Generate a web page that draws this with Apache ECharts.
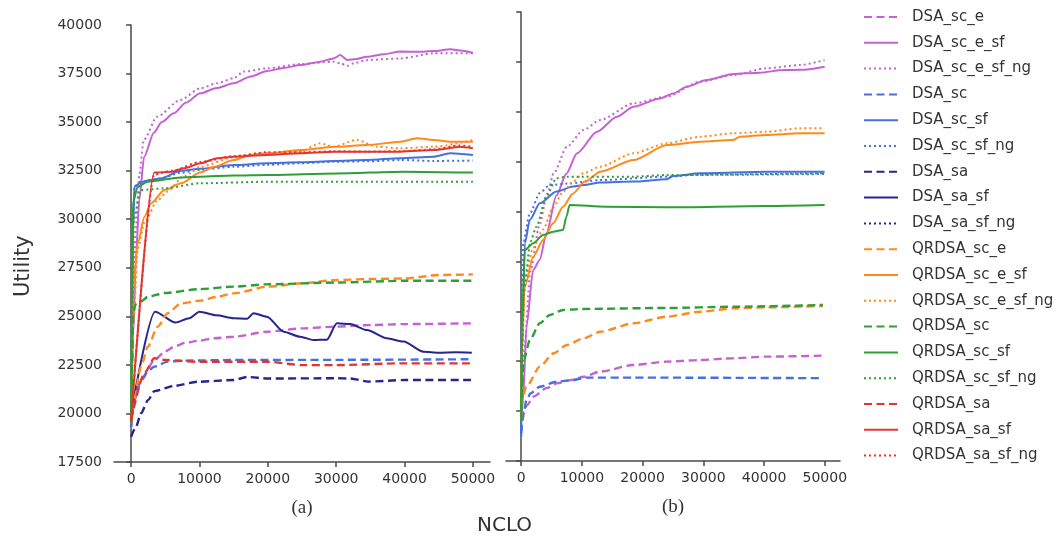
<!DOCTYPE html>
<html><head><meta charset="utf-8">
<script src="https://cdn.jsdelivr.net/npm/echarts@6/dist/echarts.min.js"></script>
<style>html,body{margin:0;padding:0;background:#fff}#c{width:1056px;height:543px}</style>
</head><body><div id="c"></div>
<script>
// ---- tick labels ----
const xTicks = [0, 10000, 20000, 30000, 40000, 50000];
const legendNames = ['DSA_sc_e','DSA_sc_e_sf','DSA_sc_e_sf_ng','DSA_sc','DSA_sc_sf','DSA_sc_sf_ng','DSA_sa','DSA_sa_sf','DSA_sa_sf_ng','QRDSA_sc_e','QRDSA_sc_e_sf','QRDSA_sc_e_sf_ng','QRDSA_sc','QRDSA_sc_sf','QRDSA_sc_sf_ng','QRDSA_sa','QRDSA_sa_sf','QRDSA_sa_sf_ng'];

// ---- panel (a) data: [NCLO, Utility] ----
const A_DSA_sc_e = [[0,19300],[500,20700],[1460,21720],[3410,22750],[5000,23200],[6330,23440],[8000,23650],[10000,23750],[12180,23870],[15000,23950],[20000,24210],[25000,24380],[30000,24470],[35000,24550],[40000,24600],[50000,24640]];
const A_DSA_sc_e_sf = [[0,19500],[300,24000],[700,28000],[1200,31000],[1900,33200],[3300,34440],[4500,35000],[6230,35450],[8000,36000],[10130,36480],[12500,36750],[15000,37000],[17500,37350],[19880,37630],[22500,37800],[24750,37940],[27500,38100],[29620,38280],[30600,38450],[31600,38200],[33000,38250],[34500,38370],[37000,38500],[39370,38630],[42000,38620],[44240,38660],[46680,38750],[48500,38680],[50000,38570]];
const A_DSA_sc_e_sf_ng = [[0,19500],[300,25000],[700,29500],[1200,32300],[1850,34080],[3800,35280],[7210,36140],[10130,36740],[12570,37000],[15000,37260],[16460,37600],[19880,37770],[24750,37990],[29620,38110],[30600,38030],[31600,37900],[32570,38030],[34500,38200],[39370,38280],[44240,38540],[50000,38540]];
const A_DSA_sc = [[0,19300],[500,20800],[1460,21720],[2500,22200],[3410,22410],[5360,22670],[8000,22720],[15000,22750],[30000,22760],[50000,22790]];
const A_DSA_sc_sf = [[0,19400],[150,25000],[300,29500],[480,31680],[1500,31900],[2400,32000],[4300,32100],[7300,32500],[10130,32600],[15000,32790],[19880,32880],[24750,32930],[29620,33000],[34500,33050],[39370,33140],[44240,33220],[46680,33400],[50000,33310]];
const A_DSA_sc_sf_ng = [[0,19400],[150,25500],[300,29800],[480,31700],[1500,31950],[4300,32100],[7300,32400],[10130,32550],[15000,32700],[19880,32800],[24750,32880],[29620,32960],[34500,32980],[39370,33050],[44240,33000],[50000,33020]];
const A_DSA_sa = [[0,18800],[700,19300],[1460,20010],[2500,20700],[3410,21150],[6330,21420],[9740,21630],[15000,21720],[17000,21880],[20000,21800],[30000,21810],[32000,21800],[34700,21640],[40000,21720],[50000,21720]];
const A_DSA_sa_sf = [[0,20000],[3500,25240],[6500,24680],[8500,24900],[10000,25240],[12500,25050],[15000,24900],[17000,24880],[17920,25160],[19870,24980],[22310,24210],[24740,23950],[26690,23780],[28640,23800],[30100,24640],[32050,24600],[34490,24290],[37410,23870],[39850,23700],[42770,23180],[45000,23130],[47500,23150],[49840,23130]];
const A_DSA_sa_sf_ng = [];
const A_QRDSA_sc_e = [[0,19500],[240,20350],[1460,22410],[2430,23440],[3900,24470],[5360,25160],[7300,25670],[10000,25800],[12500,26000],[15000,26180],[20000,26530],[25000,26700],[30000,26870],[35000,26920],[40000,26950],[45000,27130],[50000,27160]];
const A_QRDSA_sc_e_sf = [[0,19500],[240,26180],[970,28760],[1950,30130],[2920,30820],[4870,31500],[7300,31850],[10130,32400],[12180,32700],[15000,33050],[17440,33310],[19880,33400],[24750,33560],[29620,33730],[34500,33820],[39370,33990],[41800,34170],[44240,34080],[46680,33990],[50000,33990]];
const A_QRDSA_sc_e_sf_ng = [[0,19500],[300,24500],[1000,28500],[2000,29900],[3900,30990],[5260,31420],[7690,32200],[10130,32700],[15000,33190],[19880,33400],[24750,33480],[27680,33910],[29620,33730],[33000,34080],[36000,33730],[39370,33650],[44240,33730],[50000,34080]];
const A_QRDSA_sc = [[0,19500],[150,22500],[300,25000],[600,25600],[1400,25750],[2430,26000],[4870,26200],[10000,26400],[15000,26530],[20000,26650],[30000,26740],[40000,26830],[50000,26830]];
const A_QRDSA_sc_sf = [[0,19500],[100,25000],[240,30820],[970,31680],[2430,31930],[7300,32150],[10130,32190],[15000,32250],[20000,32280],[30000,32360],[40000,32450],[50000,32400]];
const A_QRDSA_sc_sf_ng = [[0,19500],[150,25000],[400,30000],[1360,31500],[4870,31590],[10130,31850],[20000,31930],[30000,31930],[50000,31930]];
const A_QRDSA_sa = [[0,19660],[1950,22070],[3410,22840],[5000,22750],[10000,22660],[20000,22660],[25000,22490],[30000,22490],[39370,22580],[50000,22580]];
const A_QRDSA_sa_sf = [[0,19600],[3400,32400],[6000,32450],[7690,32620],[10130,32880],[12570,33140],[15000,33220],[19880,33310],[24750,33400],[29620,33480],[39370,33480],[44240,33560],[48130,33730],[50000,33650]];
const A_QRDSA_sa_sf_ng = [[0,19600],[3400,32300],[6000,32500],[10130,32950],[15000,33250],[19880,33450],[24750,33450],[29620,33500],[34500,33480],[39370,33500],[44240,33600],[48000,33800],[50000,33730]];

// ---- panel (b) data ----
const B_DSA_sc_e = [[0,19600],[985,20300],[2000,20720],[4150,21150],[6000,21400],[8540,21580],[10280,21720],[13020,21980],[18490,22310],[23970,22480],[29440,22560],[34910,22650],[40390,22730],[49690,22780]];
const B_DSA_sc_e_sf = [[0,19500],[320,20560],[870,24230],[1970,27070],[3060,27570],[4150,28910],[5800,30800],[7440,31900],[9200,32920],[12480,34000],[15760,34750],[18490,35250],[22870,35670],[25060,35920],[27260,36260],[30540,36590],[34910,36890],[39290,36960],[43120,37090],[46000,37100],[49970,37260]];
const B_DSA_sc_e_sf_ng = [[0,19700],[500,23000],[1500,27000],[3000,29300],[4300,30900],[5350,31920],[7550,33250],[10280,34090],[13020,34590],[18490,35420],[23970,35760],[29440,36510],[34910,36840],[40390,37180],[45860,37340],[49970,37590]];
const B_DSA_sc = [[0,18890],[430,19890],[870,20560],[1530,20890],[3060,21220],[5800,21470],[8540,21560],[10830,21680],[18490,21680],[49690,21650]];
const B_DSA_sc_sf = [[0,18720],[150,23000],[600,28410],[1420,29580],[3060,30410],[5800,31000],[8540,31250],[10280,31330],[13020,31450],[18490,31500],[23970,31620],[25060,31780],[29440,31920],[40390,32000],[49970,32000]];
const B_DSA_sc_sf_ng = [[0,19000],[100,24000],[320,28410],[1420,29910],[3060,30920],[4700,31330],[7550,31400],[13020,31580],[23970,31750],[29440,31850],[49970,31920]];
const B_QRDSA_sc_e = [[0,20220],[870,21220],[3060,22230],[5350,22900],[7550,23310],[10280,23650],[13020,23980],[18490,24400],[23970,24730],[29440,24980],[34910,25150],[40390,25200],[49690,25270]];
const B_QRDSA_sc_e_sf = [[0,19500],[50,22560],[600,26240],[1970,27740],[3610,28570],[5250,29410],[6900,30240],[8540,30910],[10500,31500],[13020,32000],[18490,32580],[23970,33330],[29440,33500],[34910,33590],[36010,33750],[40390,33840],[45860,33920],[49970,33920]];
const B_QRDSA_sc_e_sf_ng = [[0,19500],[100,23000],[600,26700],[1970,28200],[3610,29100],[5250,30200],[6900,31000],[8540,31500],[10280,31920],[13020,32250],[18490,32920],[23970,33420],[29440,33750],[34910,33920],[40390,34000],[45860,34170],[49970,34170]];
const B_QRDSA_sc = [[0,20060],[430,22560],[1420,23560],[3060,24400],[4700,24820],[6900,25070],[10000,25120],[23970,25170],[34910,25230],[49690,25320]];
const B_QRDSA_sc_sf = [[0,19550],[100,24000],[600,28070],[1970,28410],[3610,28820],[5250,28990],[6900,29080],[7440,29740],[7980,30330],[14010,30240],[23970,30210],[40390,30280],[49970,30330]];
const B_QRDSA_sc_sf_ng = [[0,19500],[430,26000],[1530,28500],[2510,29240],[4150,30750],[5800,31670],[7550,31750],[18490,31750],[23970,31830],[49970,31880]];

const colors = {sc_e:'#c462d2', sc:'#4470e0', sa:'#25258f', q_sc_e:'#ff8a1c', q_sc:'#2e9e36', q_sa:'#e23530'};
const DASH = [8, 4.5], DOT = [2, 3];

function mk(name, data, color, kind, gi) {
  const t = kind === 'dash' ? DASH : (kind === 'dot' ? DOT : 'solid');
  return {
    name, type: 'line', data, xAxisIndex: gi, yAxisIndex: gi,
    symbol: 'none', showSymbol: false, smooth: 0.25, smoothMonotone: 'x',
    lineStyle: {color, width: kind === 'dash' ? 2.4 : 2, type: t},
    itemStyle: {color}, emphasis: {disabled: true}, animation: false
  };
}

const series = [
  mk('DSA_sc_e', A_DSA_sc_e, colors.sc_e, 'dash', 0),
  mk('DSA_sc_e_sf', A_DSA_sc_e_sf, colors.sc_e, 'solid', 0),
  mk('DSA_sc_e_sf_ng', A_DSA_sc_e_sf_ng, colors.sc_e, 'dot', 0),
  mk('DSA_sc', A_DSA_sc, colors.sc, 'dash', 0),
  mk('DSA_sc_sf', A_DSA_sc_sf, colors.sc, 'solid', 0),
  mk('DSA_sc_sf_ng', A_DSA_sc_sf_ng, colors.sc, 'dot', 0),
  mk('DSA_sa', A_DSA_sa, colors.sa, 'dash', 0),
  mk('DSA_sa_sf', A_DSA_sa_sf, colors.sa, 'solid', 0),
  mk('DSA_sa_sf_ng', A_DSA_sa_sf_ng, colors.sa, 'dot', 0),
  mk('QRDSA_sc_e', A_QRDSA_sc_e, colors.q_sc_e, 'dash', 0),
  mk('QRDSA_sc_e_sf', A_QRDSA_sc_e_sf, colors.q_sc_e, 'solid', 0),
  mk('QRDSA_sc_e_sf_ng', A_QRDSA_sc_e_sf_ng, colors.q_sc_e, 'dot', 0),
  mk('QRDSA_sc', A_QRDSA_sc, colors.q_sc, 'dash', 0),
  mk('QRDSA_sc_sf', A_QRDSA_sc_sf, colors.q_sc, 'solid', 0),
  mk('QRDSA_sc_sf_ng', A_QRDSA_sc_sf_ng, colors.q_sc, 'dot', 0),
  mk('QRDSA_sa', A_QRDSA_sa, colors.q_sa, 'dash', 0),
  mk('QRDSA_sa_sf', A_QRDSA_sa_sf, colors.q_sa, 'solid', 0),
  mk('QRDSA_sa_sf_ng', A_QRDSA_sa_sf_ng, colors.q_sa, 'dot', 0),
  mk('DSA_sc_e', B_DSA_sc_e, colors.sc_e, 'dash', 1),
  mk('DSA_sc_e_sf', B_DSA_sc_e_sf, colors.sc_e, 'solid', 1),
  mk('DSA_sc_e_sf_ng', B_DSA_sc_e_sf_ng, colors.sc_e, 'dot', 1),
  mk('DSA_sc', B_DSA_sc, colors.sc, 'dash', 1),
  mk('DSA_sc_sf', B_DSA_sc_sf, colors.sc, 'solid', 1),
  mk('DSA_sc_sf_ng', B_DSA_sc_sf_ng, colors.sc, 'dot', 1),
  mk('QRDSA_sc_e', B_QRDSA_sc_e, colors.q_sc_e, 'dash', 1),
  mk('QRDSA_sc_e_sf', B_QRDSA_sc_e_sf, colors.q_sc_e, 'solid', 1),
  mk('QRDSA_sc_e_sf_ng', B_QRDSA_sc_e_sf_ng, colors.q_sc_e, 'dot', 1),
  mk('QRDSA_sc', B_QRDSA_sc, colors.q_sc, 'dash', 1),
  mk('QRDSA_sc_sf', B_QRDSA_sc_sf, colors.q_sc, 'solid', 1),
  mk('QRDSA_sc_sf_ng', B_QRDSA_sc_sf_ng, colors.q_sc, 'dot', 1)
];

const AX = '#4a4a4a', TXT = '#333', FONT = 'DejaVu Sans';
const plain = v => String(v);
function xAx(gi, label) {
  return {
    type: 'value', gridIndex: gi, min: -2500, max: 52500,
    name: label, nameLocation: 'middle', nameGap: 37,
    nameTextStyle: {fontFamily: 'Liberation Serif', fontSize: 19, color: TXT},
    axisLine: {show: true, lineStyle: {color: AX, width: 1.5}},
    axisTick: {show: true, length: 5, customValues: xTicks, lineStyle: {color: AX, width: 1.5}},
    axisLabel: {customValues: xTicks, formatter: plain, margin: 10, fontFamily: FONT, fontSize: 14, color: TXT},
    splitLine: {show: false}
  };
}
function yAx(gi, showLabels) {
  return {
    type: 'value', gridIndex: gi, min: 17500, max: 40000, interval: 2500,
    axisLine: {show: true, lineStyle: {color: AX, width: 1.5}},
    axisTick: {show: true, length: 5, lineStyle: {color: AX, width: 1.5}},
    axisLabel: {show: showLabels, formatter: plain, margin: 12, fontFamily: FONT, fontSize: 14, color: TXT},
    splitLine: {show: false}
  };
}

const chart = echarts.init(document.getElementById('c'), null, {renderer: 'canvas'});
chart.setOption({
  animation: false,
  backgroundColor: '#fff',
  grid: [
    {left: 114, top: 25, width: 376, height: 437},
    {left: 506, top: 12, width: 334, height: 449}
  ],
  xAxis: [xAx(0, '(a)'), xAx(1, '(b)')],
  yAxis: [yAx(0, true), yAx(1, false)],
  legend: {
    orient: 'vertical', left: 858, top: 4,
    data: legendNames, itemWidth: 34, itemHeight: 14, itemGap: 9.8,
    selectedMode: false,
    itemStyle: {opacity: 0},
    textStyle: {fontFamily: FONT, fontSize: 15, lineHeight: 16, color: TXT, padding: [0, 0, 0, 9]}
  },
  graphic: [
    {type: 'text', left: 477, top: 516, style: {text: 'NCLO', fontFamily: FONT, fontSize: 20, fill: TXT}},
    {type: 'text', x: 13, y: 297, rotation: Math.PI / 2, style: {text: 'Utility', fontFamily: FONT, fontSize: 21, fill: TXT}}
  ],
  series
});
</script>
</body></html>
